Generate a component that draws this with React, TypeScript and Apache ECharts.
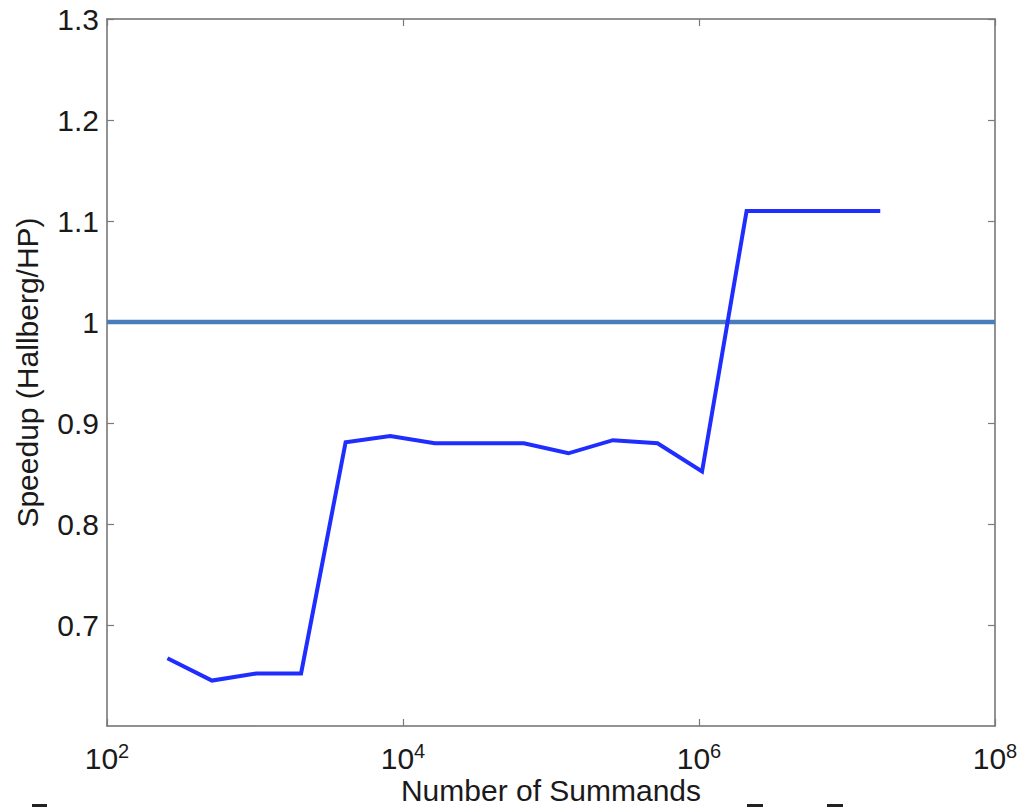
import React, { useEffect, useRef } from "react";
import * as echarts from "echarts";

const summands = [256, 512, 1024, 2048, 4096, 8192, 16384, 32768, 65536, 131072, 262144, 524288, 1048576, 2097152, 16777216];
const speedup = [0.667, 0.645, 0.652, 0.652, 0.881, 0.887, 0.880, 0.880, 0.880, 0.870, 0.883, 0.880, 0.852, 1.11, 1.11];
const refX = [100, 100000000];
const refY = [1, 1];
const xTicks = [100, 10000, 1000000, 100000000];
const yTicks = [0.7, 0.8, 0.9, 1, 1.1, 1.2, 1.3];

const FONT = "Liberation Sans";

export default function App() {
  const ref = useRef<HTMLDivElement>(null);
  useEffect(() => {
    const chart = echarts.init(ref.current!, null, { renderer: "svg" });
    const axisLine = { show: true, lineStyle: { color: "#6e6e6e", width: 1.5 } };
    const tickStyle = { show: true, inside: true, length: 7, lineStyle: { color: "#7a7a7a", width: 1.2 } };
    const xBase = {
      type: "log" as const,
      logBase: 10,
      min: 100,
      max: 100000000,
      splitLine: { show: false },
      axisLine,
    };
    const yBase = {
      type: "value" as const,
      min: 0.6,
      max: 1.3,
      interval: 0.1,
      splitLine: { show: false },
      axisLine,
    };
    chart.setOption({
      animation: false,
      backgroundColor: "#fff",
      grid: { left: 107, right: 23, top: 19, bottom: 81, containLabel: false, outerBoundsMode: "none" },
      xAxis: [
        {
          ...xBase,
          position: "bottom",
          name: "Number of Summands",
          nameLocation: "middle",
          nameGap: 52,
          nameMoveOverlap: false,
          nameTextStyle: { fontFamily: FONT, fontSize: 30, color: "#1a1a1a", lineHeight: 24 },
          axisTick: { ...tickStyle, customValues: xTicks },
          axisLabel: {
            customValues: xTicks,
            margin: 15,
            formatter: (v: number) => `{b|10}{s|${Math.round(Math.log10(v))}}`,
            rich: {
              b: { fontFamily: FONT, fontSize: 30, color: "#1a1a1a", lineHeight: 34 },
              s: { fontFamily: FONT, fontSize: 20, color: "#1a1a1a", verticalAlign: "top", lineHeight: 20 },
            },
          },
        },
        {
          ...xBase,
          position: "top",
          axisTick: { ...tickStyle, customValues: xTicks },
          axisLabel: { show: false },
        },
      ],
      yAxis: [
        {
          ...yBase,
          position: "left",
          name: "Speedup (Hallberg/HP)",
          nameLocation: "middle",
          nameGap: 65,
          nameMoveOverlap: false,
          nameTextStyle: { fontFamily: FONT, fontSize: 30, color: "#1a1a1a", lineHeight: 30 },
          axisTick: { ...tickStyle, customValues: yTicks },
          axisLabel: {
            customValues: yTicks,
            margin: 8,
            fontFamily: FONT,
            fontSize: 30,
            color: "#1a1a1a",
            formatter: (v: number) => String(+v.toFixed(1)),
          },
        },
        {
          ...yBase,
          position: "right",
          axisTick: { ...tickStyle, customValues: yTicks },
          axisLabel: { show: false },
        },
      ],
      series: [
        {
          type: "line",
          data: refX.map((x, i) => [x, refY[i]]),
          showSymbol: false,
          symbol: "none",
          lineStyle: { color: "#4a7ebb", width: 4.5 },
          z: 2,
        },
        {
          type: "line",
          data: summands.map((x, i) => [x, speedup[i]]),
          showSymbol: false,
          symbol: "none",
          lineStyle: { color: "#1f2eff", width: 4, join: "miter" },
          z: 3,
        },
      ],
      graphic: [
        { type: "rect", shape: { x: 32, y: 804, width: 15, height: 3 }, style: { fill: "#222" } },
        { type: "rect", shape: { x: 747, y: 804, width: 16, height: 3 }, style: { fill: "#222" } },
        { type: "rect", shape: { x: 827, y: 804, width: 16, height: 3 }, style: { fill: "#222" } },
      ],
    });
    return () => chart.dispose();
  }, []);
  return (
    <div
      ref={ref}
      style={{ position: "fixed", left: 0, top: 0, width: 1018, height: 807, background: "#fff" }}
    />
  );
}
